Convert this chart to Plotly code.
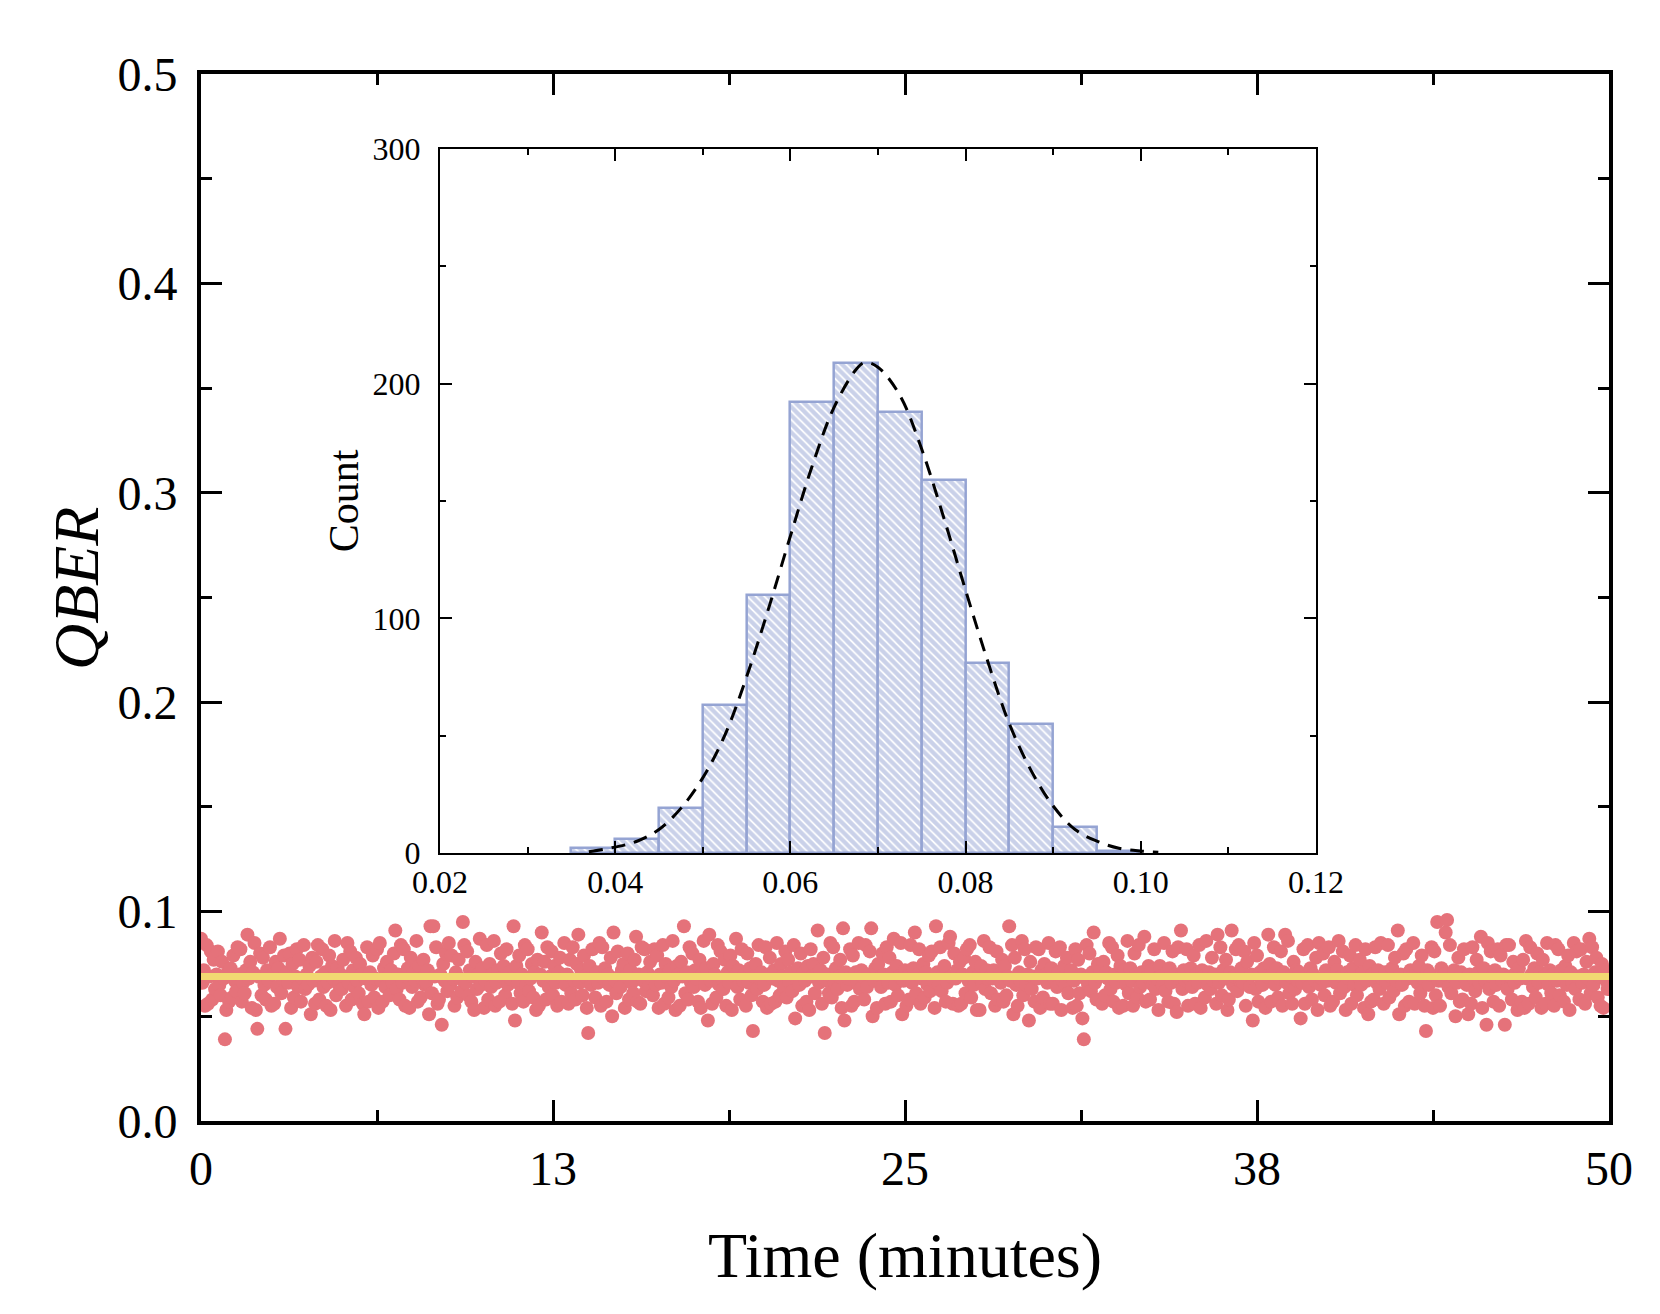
import numpy as np
import plotly.graph_objs as go

# QBER samples (x 0.001), one row per minute, 20 samples per minute
qber_milli = [
    87, 66, 72, 55, 84, 56, 69, 81, 58, 77, 63, 70, 81, 65, 60, 76, 68, 39, 53, 71,
    57, 73, 59, 79, 67, 62, 83, 70, 82, 57, 66, 61, 72, 89, 68, 76, 54, 71, 85, 53,
    44, 69, 80, 60, 78, 65, 58, 72, 67, 83, 55, 70, 56, 76, 64, 73, 87, 61, 68, 79,
    44, 71, 66, 80, 54, 75, 59, 69, 82, 64, 77, 57, 68, 84, 63, 70, 65, 74, 51, 78,
    67, 56, 76, 84, 58, 69, 82, 64, 71, 55, 66, 79, 53, 74, 68, 86, 60, 73, 65, 70,
    63, 77, 69, 55, 85, 66, 81, 58, 72, 64, 78, 67, 61, 75, 70, 56, 51, 68, 83, 57,
    71, 65, 79, 59, 68, 82, 54, 85, 67, 57, 73, 64, 76, 69, 60, 72, 66, 80, 91, 63,
    70, 58, 84, 66, 82, 55, 69, 73, 54, 78, 64, 71, 67, 86, 57, 74, 59, 68, 77, 65,
    66, 72, 51, 93, 61, 93, 69, 83, 56, 58, 70, 46, 75, 67, 80, 62, 85, 65, 79, 68,
    55, 71, 59, 77, 68, 62, 95, 84, 66, 81, 60, 72, 57, 69, 53, 76, 63, 70, 87, 65,
    73, 54, 67, 84, 58, 75, 64, 70, 86, 55, 66, 72, 57, 80, 69, 74, 60, 82, 65, 71,
    68, 56, 93, 48, 74, 66, 79, 61, 70, 57, 84, 65, 82, 62, 68, 75, 59, 71, 53, 77,
    55, 70, 90, 67, 76, 58, 83, 64, 69, 81, 60, 74, 66, 55, 71, 78, 57, 68, 85, 65,
    70, 56, 77, 61, 83, 67, 58, 75, 89, 66, 72, 60, 79, 69, 54, 42, 74, 65, 82, 68,
    59, 71, 66, 85, 55, 83, 68, 73, 57, 70, 65, 78, 50, 90, 67, 61, 81, 69, 64, 72,
    75, 54, 69, 80, 58, 72, 66, 61, 77, 88, 57, 70, 56, 83, 67, 82, 62, 71, 65, 76,
    68, 60, 82, 65, 79, 54, 70, 66, 84, 56, 75, 69, 59, 72, 64, 86, 67, 53, 74, 70,
    55, 76, 69, 93, 61, 71, 58, 83, 66, 80, 64, 72, 68, 57, 77, 54, 70, 86, 65, 73,
    48, 89, 67, 56, 75, 70, 59, 84, 65, 81, 68, 63, 77, 55, 71, 66, 79, 53, 74, 69,
    87, 64, 72, 58, 82, 67, 70, 55, 80, 66, 73, 60, 43, 69, 75, 63, 84, 68, 71, 57,
    65, 83, 54, 70, 78, 56, 68, 72, 57, 85, 67, 60, 75, 69, 64, 81, 59, 77, 66, 71,
    62, 84, 49, 68, 73, 65, 80, 55, 71, 67, 57, 74, 53, 82, 69, 75, 61, 70, 91, 66,
    72, 56, 78, 42, 67, 70, 61, 85, 59, 83, 66, 73, 63, 69, 77, 54, 92, 48, 71, 65,
    68, 82, 55, 79, 57, 71, 66, 85, 63, 72, 69, 58, 84, 64, 70, 81, 92, 50, 67, 73,
    54, 75, 68, 64, 80, 70, 56, 83, 66, 78, 57, 71, 87, 65, 74, 60, 69, 85, 51, 67,
    72, 55, 69, 58, 84, 66, 73, 90, 61, 70, 82, 56, 68, 75, 59, 71, 65, 79, 62, 81,
    67, 54, 93, 71, 65, 83, 62, 70, 74, 57, 66, 85, 88, 69, 56, 80, 68, 72, 55, 76,
    56, 70, 78, 61, 82, 67, 84, 59, 71, 65, 76, 53, 69, 53, 74, 66, 86, 63, 72, 68,
    83, 61, 68, 72, 55, 81, 58, 70, 66, 77, 57, 74, 60, 69, 93, 67, 84, 51, 78, 65,
    55, 71, 67, 86, 60, 82, 65, 70, 48, 76, 63, 69, 57, 83, 68, 82, 54, 72, 59, 75,
    70, 66, 85, 56, 73, 56, 68, 81, 64, 71, 83, 53, 67, 74, 65, 78, 61, 69, 72, 54,
    67, 82, 55, 77, 61, 70, 49, 39, 68, 84, 65, 80, 62, 71, 90, 66, 58, 75, 69, 72,
    56, 76, 60, 71, 68, 85, 63, 83, 57, 70, 66, 79, 54, 74, 69, 55, 72, 65, 86, 61,
    73, 67, 55, 80, 70, 59, 84, 64, 71, 66, 88, 57, 69, 74, 58, 72, 65, 82, 63, 68,
    53, 74, 69, 65, 85, 62, 71, 57, 73, 66, 81, 56, 70, 52, 83, 68, 91, 63, 72, 67,
    82, 55, 68, 73, 64, 79, 56, 70, 66, 84, 54, 72, 69, 59, 86, 65, 71, 63, 78, 67,
    70, 56, 89, 66, 83, 60, 72, 68, 77, 53, 58, 71, 91, 65, 69, 82, 62, 84, 67, 73,
    66, 81, 55, 76, 68, 64, 70, 48, 85, 63, 79, 57, 71, 67, 65, 73, 54, 69, 89, 75,
    57, 70, 83, 65, 73, 59, 68, 81, 55, 71, 89, 66, 86, 61, 69, 56, 76, 63, 72, 67,
    71, 49, 66, 82, 56, 69, 84, 64, 73, 58, 70, 67, 78, 53, 85, 65, 68, 80, 60, 72,
    67, 83, 55, 70, 57, 76, 66, 72, 86, 61, 69, 81, 64, 53, 71, 68, 79, 56, 73, 65,
    84, 60, 69, 77, 65, 71, 54, 82, 67, 51, 74, 57, 70, 58, 83, 66, 72, 63, 85, 68,
    56, 71, 66, 84, 59, 69, 73, 62, 78, 67, 91, 51, 70, 65, 80, 55, 82, 68, 57, 72,
    69, 85, 56, 71, 66, 74, 61, 79, 68, 55, 43, 72, 65, 70, 83, 54, 81, 60, 95, 67,
    55, 73, 67, 70, 90, 96, 64, 84, 61, 69, 72, 50, 66, 78, 57, 71, 58, 82, 68, 65,
    51, 70, 56, 83, 68, 62, 77, 71, 66, 88, 54, 73, 67, 46, 85, 63, 81, 69, 57, 72,
    65, 82, 55, 79, 67, 70, 46, 84, 63, 84, 69, 58, 76, 66, 71, 53, 73, 68, 57, 77,
    54, 86, 68, 56, 83, 70, 64, 73, 59, 80, 66, 71, 54, 77, 69, 56, 85, 65, 72, 61,
    70, 55, 84, 67, 82, 60, 72, 68, 57, 74, 65, 79, 53, 71, 66, 85, 63, 81, 69, 58,
    82, 66, 70, 56, 76, 68, 87, 61, 83, 65, 71, 78, 59, 69, 55, 75, 54, 72, 67, 63,
]
sample_period_min = 0.05
qber_mean = 0.069

# histogram of QBER (inset)
bin_left = [0.035, 0.040, 0.045, 0.050, 0.055, 0.060, 0.065,
            0.070, 0.075, 0.080, 0.085, 0.090, 0.095]
bin_count = [2, 6, 19, 63, 110, 192, 209, 188, 159, 81, 55, 11, 1]
bin_width = 0.005

# gaussian fit curve
fit_x = [0.037, 0.040, 0.0425, 0.045, 0.0475, 0.050, 0.0525, 0.055, 0.0575,
         0.060, 0.0625, 0.065, 0.0675, 0.0685, 0.070, 0.0725, 0.075, 0.0775,
         0.080, 0.0825, 0.085, 0.0875, 0.090, 0.0925, 0.095, 0.0975, 0.100, 0.102]
fit_y = [0.5, 2.5, 5, 10, 19, 32, 50, 75, 104,
         135, 165, 190, 206, 209, 207, 195, 172, 143,
         112, 82, 55, 35, 20, 10, 5, 2, 0.8, 0.3]

time_min = np.arange(len(qber_milli)) * sample_period_min
qber = np.array(qber_milli) / 1000.0

FONT = "Liberation Serif"
RED = "#E5727A"
YELLOW = "#F1D872"
BLUE = "#95A4D3"

fig = go.Figure()

fig.add_trace(go.Scatter(x=time_min, y=qber, mode="markers",
                         marker=dict(color=RED, size=14, line=dict(width=0)),
                         xaxis="x", yaxis="y", showlegend=False))
fig.add_trace(go.Scatter(x=[0, 50], y=[qber_mean, qber_mean], mode="lines",
                         line=dict(color=YELLOW, width=7),
                         xaxis="x", yaxis="y", showlegend=False))

fig.add_trace(go.Bar(x=[b + bin_width / 2 for b in bin_left], y=bin_count, width=bin_width,
                     marker=dict(color="white", line=dict(color=BLUE, width=2.5),
                                 pattern=dict(shape="\\", fgcolor=BLUE, bgcolor="white",
                                              size=6, solidity=0.7)),
                     xaxis="x2", yaxis="y2", showlegend=False))
fig.add_trace(go.Scatter(x=fit_x, y=fit_y, mode="lines", line_shape="spline",
                         line=dict(color="black", width=3, dash="14px,9px"),
                         xaxis="x2", yaxis="y2", showlegend=False))

main_axis = dict(showline=True, linecolor="black", linewidth=4, mirror="ticks",
                 ticks="inside", ticklen=21, tickwidth=3, tickcolor="black",
                 showgrid=False, zeroline=False,
                 tickfont=dict(family=FONT, size=48, color="black"))
inset_axis = dict(showline=True, linecolor="black", linewidth=2, mirror="ticks",
                  ticks="inside", ticklen=12, tickwidth=2, tickcolor="black",
                  showgrid=False, zeroline=False,
                  tickfont=dict(family=FONT, size=32, color="black"))

fig.update_layout(
    width=1660, height=1314,
    margin=dict(l=201, r=51, t=74, b=193),
    paper_bgcolor="white", plot_bgcolor="white",
    bargap=0,
    xaxis=dict(main_axis, range=[0, 50], tickmode="array",
               tickvals=[0, 12.5, 25, 37.5, 50], ticktext=["0", "13", "25", "38", "50"],
               ticklabelstandoff=2,
               minor=dict(tickmode="linear", tick0=0, dtick=6.25, ticks="inside",
                          ticklen=11, tickwidth=3, tickcolor="black"),
               title=dict(text="Time (minutes)", font=dict(family=FONT, size=64, color="black"),
                          standoff=40)),
    yaxis=dict(main_axis, range=[0, 0.5], dtick=0.1, tickformat=".1f",
               ticklabelstandoff=10,
               minor=dict(dtick=0.05, ticks="inside", ticklen=11, tickwidth=3, tickcolor="black")),
    xaxis2=dict(inset_axis, domain=[0.1697, 0.7919], anchor="y2", range=[0.02, 0.12],
                dtick=0.02, tickformat=".2f",
                minor=dict(dtick=0.01, ticks="inside", ticklen=6, tickwidth=2, tickcolor="black")),
    yaxis2=dict(inset_axis, domain=[0.256, 0.9284], anchor="x2", range=[0, 300],
                dtick=100, ticklabelstandoff=11,
                minor=dict(dtick=50, ticks="inside", ticklen=6, tickwidth=2, tickcolor="black")),
    annotations=[
        dict(text="<i>QBER</i>", xref="paper", yref="paper", x=-0.0888, y=0.509,
             textangle=-90, showarrow=False, xanchor="center", yanchor="middle",
             font=dict(family=FONT, size=64, color="black")),
        dict(text="Count", xref="paper", yref="paper", x=0.1016, y=0.592,
             textangle=-90, showarrow=False, xanchor="center", yanchor="middle",
             font=dict(family=FONT, size=42, color="black")),
    ],
)

fig.write_html("out.html", config={"displayModeBar": False},
               post_script="document.body.style.margin='0';")
